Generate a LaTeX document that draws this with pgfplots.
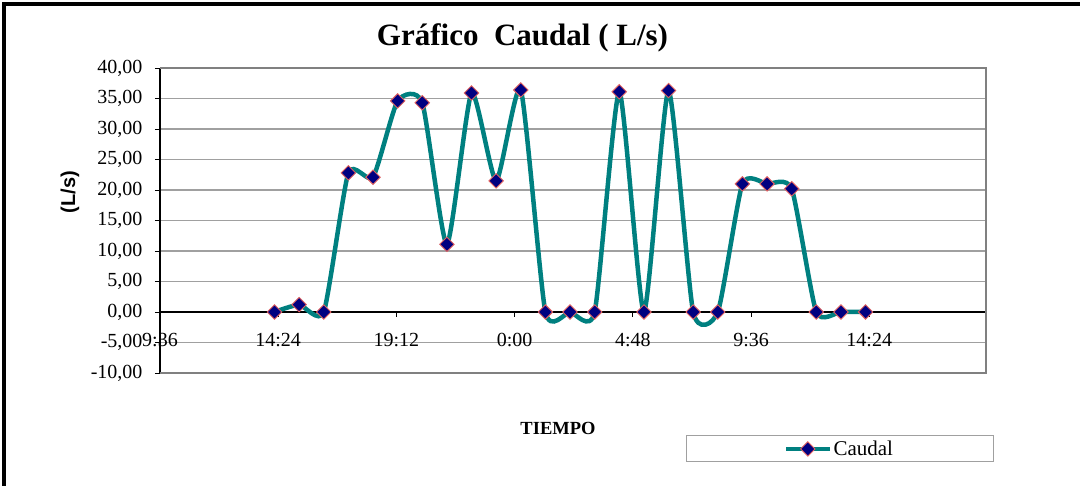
\documentclass[border=0pt]{standalone}
\usepackage{pgfplots}
\pgfplotsset{compat=1.18}
\usepackage{fontspec}
\setmainfont{Liberation Serif}
\setsansfont{Liberation Sans}
\definecolor{teal2}{RGB}{0,128,128}
\definecolor{navy2}{RGB}{0,0,128}
\definecolor{mkred}{RGB}{224,96,96}
\definecolor{gridg}{RGB}{160,160,160}
\definecolor{boxg}{RGB}{128,128,128}
\pgfplotstableread{
x y
14.25 0
15.25 1.2
16.25 0
17.25 22.8
18.25 22.1
19.25 34.6
20.25 34.3
21.25 11.1
22.25 35.9
23.25 21.5
24.25 36.4
25.25 0
26.25 0
27.25 0
28.25 36.1
29.25 0
30.25 36.3
31.25 0
32.25 0
33.25 21.0
34.25 21.0
35.25 20.2
36.25 0
37.25 0
38.25 0
}\caudal
\begin{document}
\begin{tikzpicture}[x=1pt,y=1pt]
\useasboundingbox (-160,-113) rectangle (920,373);
\draw[line width=4pt] (-156,-130) -- (-156,369) -- (925,369);
\begin{axis}[
  at={(0,0)}, anchor=south west,
  scale only axis, width=826pt, height=305pt,
  xmin=9.6, xmax=43.14, ymin=-10, ymax=40,
  axis x line=middle, axis y line=left,
  axis line style={-, black, line width=1.3pt},
  hide obscured x ticks=false, hide obscured y ticks=false,
  tick align=outside, major tick length=5pt,
  tick style={black, line width=0.8pt},
  xtick={9.6,14.4,19.2,24,28.8,33.6,38.4},
  xticklabels={9:36,14:24,19:12,0:00,4:48,9:36,14:24},
  ytick={-10,-5,...,40},
  ymajorgrids, major grid style={gridg, line width=1.3pt},
  /pgf/number format/.cd, fixed, fixed zerofill, precision=2, use comma, 1000 sep={}, assume math mode=true,
  /pgfplots/.cd,
  ticklabel style={font=\fontsize{20}{24}\selectfont},
  yticklabel style={xshift=-9pt},
  xticklabel style={yshift=-13pt},
  clip=false,
  legend style={at={(0.8227,-0.249)}, anchor=center, draw=gridg, line width=1pt,
    inner xsep=98pt, inner ysep=3pt, font=\fontsize{21}{24}\selectfont},
  legend image code/.code={\draw[#1, mark repeat=2, mark phase=2] plot coordinates {(0pt,0pt) (21.5pt,0pt) (43pt,0pt)};},
]
\draw[boxg, line width=2.5pt] (rel axis cs:0,0) -- (rel axis cs:1,0) -- (rel axis cs:1,1) -- (rel axis cs:0,1);
\addplot[teal2, line width=4.5pt, smooth, tension=0.35, mark=square*, mark size=5.1pt,
  mark options={fill=navy2, draw=mkred, line width=0.9pt, solid, rotate=45}] table[x=x,y=y] {\caudal};
\addlegendentry{Caudal}
\end{axis}
\node[font=\bfseries\fontsize{31}{36}\selectfont] at (362.5,335) {Gráfico\ \ Caudal ( L/s)};
\node[font=\sffamily\bfseries\fontsize{20}{24}\selectfont, rotate=90] at (-90,181) {(L/s)};
\node[font=\bfseries\fontsize{18.5}{22}\selectfont] at (398,-55) {TIEMPO};
\end{tikzpicture}
\end{document}
